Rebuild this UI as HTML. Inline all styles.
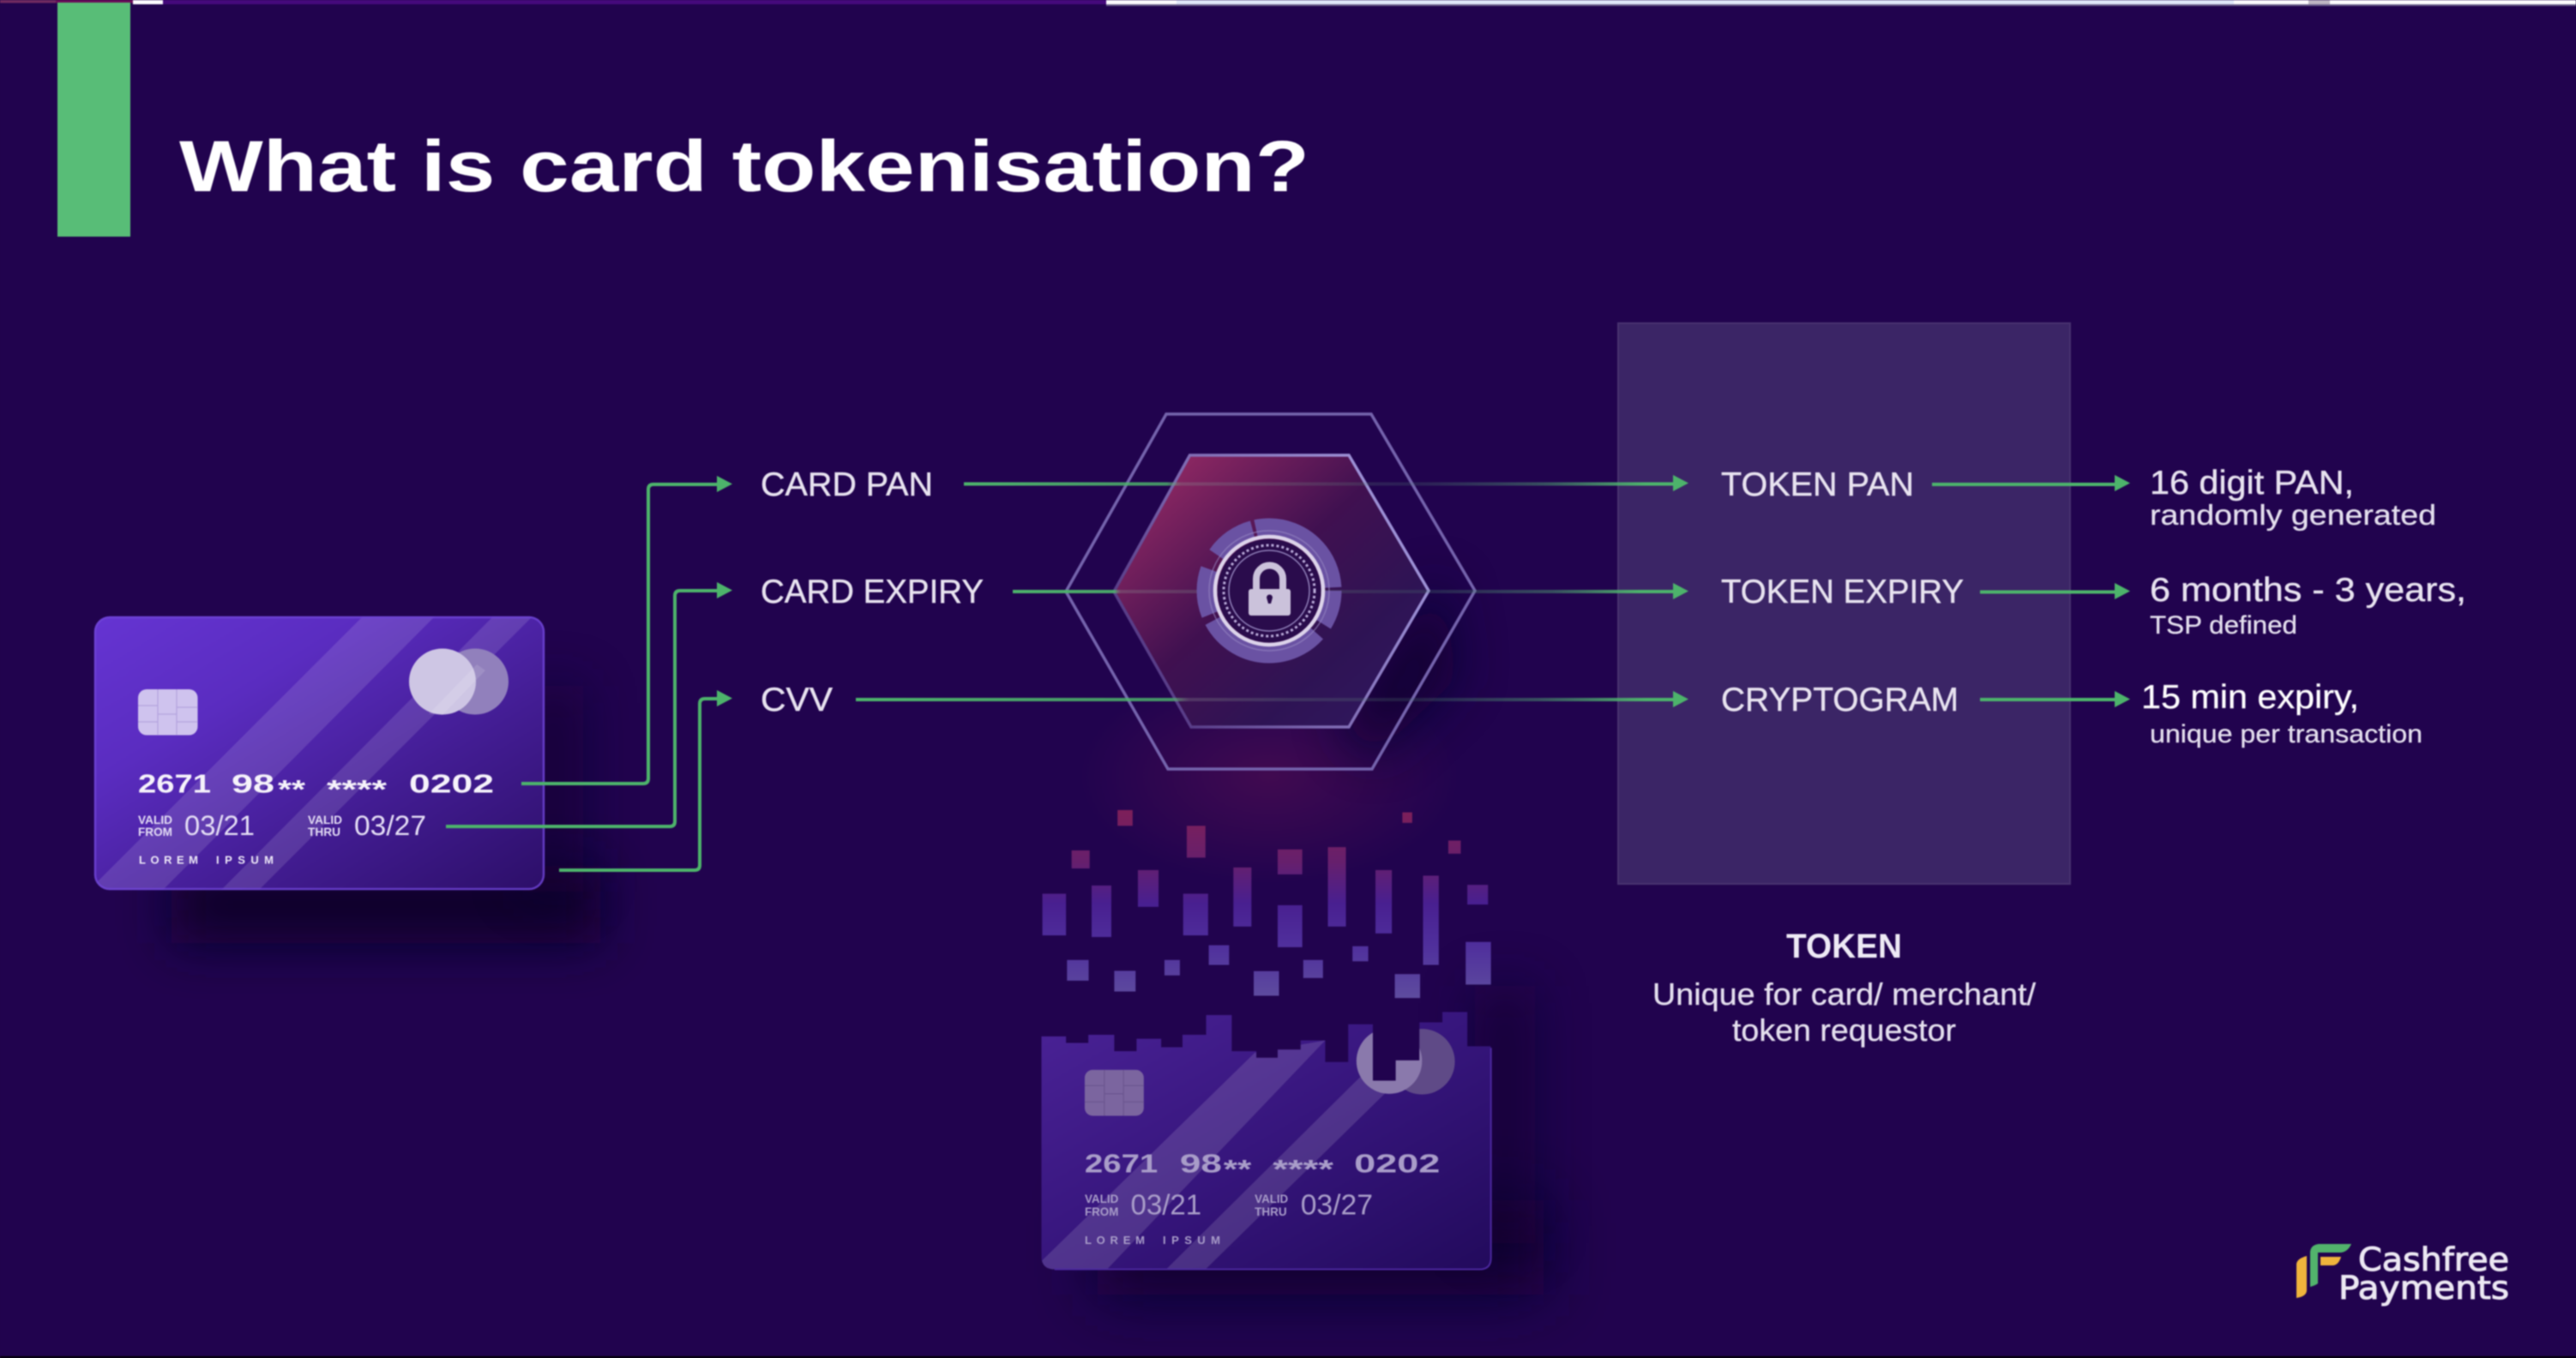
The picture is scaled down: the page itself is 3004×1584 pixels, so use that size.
<!DOCTYPE html>
<html><head><meta charset="utf-8"><title>What is card tokenisation?</title>
<style>
html,body{margin:0;padding:0;background:#21034e;width:3004px;height:1584px;overflow:hidden}
svg{display:block;filter:blur(.8px)}
text{font-family:"Liberation Sans",sans-serif;fill:#e8e3f0}
.l{font-size:39px;stroke:#e8e3f0;stroke-width:.4}
.s{font-size:33px;fill:#e4dfee;stroke:#e4dfee;stroke-width:.3}
.n{font-weight:bold;font-size:31px;fill:#f6f3fb}
.v{font-size:14px;fill:#e4ddf5;font-weight:bold}
.d{font-size:32px;fill:#e4ddf5}
.o{font-size:13px;font-weight:bold;fill:#eee9f8}
.n2{font-weight:bold;font-size:80px;fill:#a99dc9}
.v2{font-size:36px;font-weight:bold;fill:#a99dc9}
.d2{font-size:86px;fill:#a99dc9}
.o2{font-size:34px;font-weight:bold;fill:#a99dc9}
</style></head><body>
<svg xmlns="http://www.w3.org/2000/svg" width="3004" height="1584" viewBox="0 0 3004 1584">
<defs>
<linearGradient id="c1" x1="0" y1="0" x2="1" y2="1"><stop offset="0" stop-color="#6534d2"/><stop offset=".3" stop-color="#5a2cc0"/><stop offset=".65" stop-color="#421c92"/><stop offset="1" stop-color="#2c0e68"/></linearGradient>
<linearGradient id="c2" x1="0" y1="0" x2="1" y2="1"><stop offset="0" stop-color="#4a2296"/><stop offset=".5" stop-color="#36157c"/><stop offset="1" stop-color="#220a5c"/></linearGradient>
<linearGradient id="hx" gradientUnits="userSpaceOnUse" x1="1340" y1="540" x2="1620" y2="850"><stop offset="0" stop-color="#962a64"/><stop offset=".45" stop-color="#401050"/><stop offset=".75" stop-color="#2e1354"/><stop offset="1" stop-color="#30175e"/></linearGradient>
<linearGradient id="hs" gradientUnits="userSpaceOnUse" x1="1300" y1="800" x2="1660" y2="600"><stop offset="0" stop-color="#4a2c78"/><stop offset=".45" stop-color="#7c68b0"/><stop offset="1" stop-color="#a298dc"/></linearGradient>
<linearGradient id="sq" gradientUnits="userSpaceOnUse" x1="0" y1="60" x2="0" y2="640"><stop offset="0" stop-color="#7e1f58"/><stop offset=".28" stop-color="#661f6c"/><stop offset=".5" stop-color="#481f90"/><stop offset=".72" stop-color="#4f2f9c"/><stop offset="1" stop-color="#5e4c9e"/></linearGradient>
<radialGradient id="gl"><stop offset="0" stop-color="#5a0f52" stop-opacity=".55"/><stop offset="1" stop-color="#5a0f52" stop-opacity="0"/></radialGradient>
<linearGradient id="a1" gradientUnits="userSpaceOnUse" x1="1124" y1="0" x2="1969" y2="0"><stop offset="0" stop-color="#4db36b"/><stop offset=".28" stop-color="#4db36b" stop-opacity=".8"/><stop offset=".3" stop-color="#8a8a90" stop-opacity=".3"/><stop offset=".62" stop-color="#4d7a70" stop-opacity=".22"/><stop offset=".8" stop-color="#4d9a70" stop-opacity=".5"/><stop offset=".94" stop-color="#4db36b"/></linearGradient>
<linearGradient id="a2" gradientUnits="userSpaceOnUse" x1="1181" y1="0" x2="1969" y2="0"><stop offset="0" stop-color="#4db36b"/><stop offset=".15" stop-color="#4db36b" stop-opacity=".9"/><stop offset=".16" stop-color="#8a8a90" stop-opacity=".3"/><stop offset=".6" stop-color="#4d7a70" stop-opacity=".22"/><stop offset=".8" stop-color="#4d9a70" stop-opacity=".5"/><stop offset=".93" stop-color="#4db36b"/></linearGradient>
<linearGradient id="a3" gradientUnits="userSpaceOnUse" x1="998" y1="0" x2="1969" y2="0"><stop offset="0" stop-color="#4db36b"/><stop offset=".38" stop-color="#4db36b" stop-opacity=".8"/><stop offset=".4" stop-color="#8a8a90" stop-opacity=".3"/><stop offset=".66" stop-color="#4d7a70" stop-opacity=".22"/><stop offset=".82" stop-color="#4d9a70" stop-opacity=".5"/><stop offset=".95" stop-color="#4db36b"/></linearGradient>
<filter id="b30" filterUnits="userSpaceOnUse" x="0" y="0" width="3004" height="1584"><feGaussianBlur stdDeviation="30"/></filter>
<filter id="b40" filterUnits="userSpaceOnUse" x="0" y="0" width="3004" height="1584"><feGaussianBlur stdDeviation="38"/></filter>
<clipPath id="cc1"><rect x="110" y="719" width="525" height="319" rx="18"/></clipPath>
<clipPath id="cc2"><path d="M90,755H165V775H233V750H312V800H380V762H455V788H520V750H592V690H670V800H745V820H810V795H880V767H955V833H1025V718H1100V890H1170V828H1242V712H1312V680H1388V785H1460V1430Q1460,1465 1425,1465H130Q90,1465 90,1425Z"/></clipPath>
</defs>
<rect width="3004" height="1584" fill="#21034e"/>

<!-- top strip -->
<rect x="0" y="0" width="65" height="3.5" fill="#702a60"/>
<rect x="65" y="0" width="90" height="3.5" fill="#6b0a58"/>
<rect x="155" y="0" width="35" height="5" fill="#fbfbff"/>
<rect x="190" y="0" width="1100" height="5" fill="#45097c"/>
<rect x="1290" y="0" width="82" height="5" fill="#fafafc"/>
<rect x="1372" y="0" width="1233" height="5" fill="#e0e7f8"/>
<rect x="2605" y="0" width="87" height="5" fill="#fbfbfc"/>
<rect x="2692" y="0" width="25" height="5" fill="#bdb6c2"/>
<rect x="2717" y="0" width="287" height="5" fill="#fcfcfd"/>
<rect x="1290" y="5" width="1714" height="2" fill="#6a5e8a"/>

<!-- green bar -->
<rect x="67" y="3" width="85" height="273" fill="#58bd77"/>
<text x="209" y="223" font-size="84" font-weight="bold" style="fill:#fff" textLength="1318" lengthAdjust="spacingAndGlyphs">What is card tokenisation?</text>

<!-- shadows -->
<rect x="200" y="1010" width="500" height="90" fill="#0d012a" filter="url(#b30)"/>
<rect x="610" y="800" width="70" height="240" fill="#10012e" filter="url(#b30)" opacity=".6"/>
<rect x="1280" y="1400" width="520" height="110" fill="#10012e" filter="url(#b40)"/>
<rect x="1720" y="1150" width="70" height="300" fill="#10012e" filter="url(#b30)" opacity=".6"/>
<ellipse cx="1480" cy="905" rx="220" ry="125" fill="url(#gl)"/>
<path d="M1560,840 L1680,670 L1700,790 L1600,885Z" fill="#0f012f" filter="url(#b30)" opacity=".8"/>

<!-- card 1 -->
<rect x="110" y="719" width="525" height="319" rx="18" fill="url(#c1)"/>
<g clip-path="url(#cc1)">
<polygon points="423,719 507,719 190,1038 104,1038" fill="#fff" opacity=".12"/>
<polygon points="575,719 621,719 302,1038 258,1038" fill="#fff" opacity=".12"/>
</g>
<rect x="111" y="720" width="523" height="317" rx="17" fill="none" stroke="#6f45d6" stroke-width="2.5" opacity=".8"/>
<ellipse cx="554" cy="795" rx="39" ry="38.5" fill="#9180bc"/>
<ellipse cx="516" cy="795" rx="39" ry="38.5" fill="#cec6e4"/>
<polygon points="500,833 556,775 566,782 516,834" fill="#fff" opacity=".12"/>
<rect x="161" y="804" width="69.500" height="53.500" rx="10" fill="#cfc3ee"/>
<path d="M184,804V857M206,804V857M161,823H184M161,842H184M206,825H230M206,842H230M184,833H206" stroke="#b3a3de" stroke-width="1.200" fill="none"/>
<text class="n" x="161" y="924.500" textLength="85" lengthAdjust="spacingAndGlyphs">2671</text>
<text class="n" x="270" y="924.500" textLength="50" lengthAdjust="spacingAndGlyphs">98</text>
<text class="n" x="324" y="931" textLength="32" lengthAdjust="spacingAndGlyphs">**</text>
<text class="n" x="381" y="931" textLength="70" lengthAdjust="spacingAndGlyphs">****</text>
<text class="n" x="477" y="924.500" textLength="99" lengthAdjust="spacingAndGlyphs">0202</text>
<text class="v" x="161" y="961" textLength="40" lengthAdjust="spacingAndGlyphs">VALID</text>
<text class="v" x="161" y="975" textLength="40" lengthAdjust="spacingAndGlyphs">FROM</text>
<text class="d" x="215" y="974" textLength="82" lengthAdjust="spacingAndGlyphs">03/21</text>
<text class="v" x="359" y="961" textLength="40" lengthAdjust="spacingAndGlyphs">VALID</text>
<text class="v" x="359" y="975" textLength="38" lengthAdjust="spacingAndGlyphs">THRU</text>
<text class="d" x="413" y="974" textLength="84" lengthAdjust="spacingAndGlyphs">03/27</text>
<text class="o" x="162" y="1007.500" textLength="69" lengthAdjust="spacing">LOREM</text>
<text class="o" x="252" y="1007.500" textLength="67" lengthAdjust="spacing">IPSUM</text>

<!-- card 2 and squares, crop coordinates -->
<g transform="translate(1180,920) scale(.38265)">
<g fill="url(#sq)">
<rect x="322" y="65" width="46" height="48"/><rect x="533" y="113" width="57" height="97"/><rect x="182" y="188" width="55" height="55"/><rect x="810" y="185" width="75" height="76"/><rect x="963" y="178" width="55" height="242"/><rect x="1190" y="72" width="30" height="32"/><rect x="1330" y="158" width="38" height="40"/><rect x="93" y="320" width="72" height="127"/><rect x="243" y="295" width="60" height="157"/><rect x="384" y="248" width="63" height="112"/><rect x="522" y="320" width="76" height="127"/><rect x="675" y="240" width="55" height="180"/><rect x="810" y="355" width="75" height="128"/><rect x="1108" y="248" width="50" height="193"/><rect x="1253" y="265" width="48" height="272"/><rect x="1388" y="293" width="63" height="60"/><rect x="1383" y="467" width="77" height="130"/><rect x="600" y="477" width="62" height="60"/><rect x="168" y="522" width="66" height="63"/><rect x="465" y="522" width="47" height="47"/><rect x="312" y="555" width="65" height="63"/><rect x="737" y="556" width="77" height="75"/><rect x="888" y="522" width="60" height="55"/><rect x="1038" y="480" width="48" height="46"/><rect x="1167" y="565" width="77" height="73"/>
</g>
<g clip-path="url(#cc2)">
<rect x="90" y="680" width="1370" height="785" fill="url(#c2)"/>
<polygon points="740,805 955,767 290,1465 100,1465 90,1440" fill="#fff" opacity=".13"/>
<polygon points="1060,880 1240,828 590,1465 470,1465" fill="#fff" opacity=".13"/>
<circle cx="1250" cy="832" r="100" fill="#5f4a87"/>
<circle cx="1150" cy="830" r="100" fill="#8a79ac"/>
</g>
<path d="M1460,790V1430Q1460,1465 1425,1465H130" fill="none" stroke="#4c28a0" stroke-width="5"/>
<rect x="222" y="857" width="180" height="140" rx="24" fill="#7b659f"/>
<path d="M282,857V997M340,857V997M222,905H282M222,955H282M340,905H402M340,955H402M282,930H340" stroke="#6a558f" stroke-width="3" fill="none"/>
<text class="n2" x="222" y="1170" textLength="223" lengthAdjust="spacingAndGlyphs">2671</text>
<text class="n2" x="512" y="1170" textLength="128" lengthAdjust="spacingAndGlyphs">98</text>
<text class="n2" x="645" y="1187" textLength="85" lengthAdjust="spacingAndGlyphs">**</text>
<text class="n2" x="795" y="1187" textLength="185" lengthAdjust="spacingAndGlyphs">****</text>
<text class="n2" x="1043" y="1170" textLength="262" lengthAdjust="spacingAndGlyphs">0202</text>
<text class="v2" x="222" y="1262" textLength="103" lengthAdjust="spacingAndGlyphs">VALID</text>
<text class="v2" x="222" y="1302" textLength="103" lengthAdjust="spacingAndGlyphs">FROM</text>
<text class="d2" x="362" y="1297" textLength="216" lengthAdjust="spacingAndGlyphs">03/21</text>
<text class="v2" x="740" y="1262" textLength="102" lengthAdjust="spacingAndGlyphs">VALID</text>
<text class="v2" x="740" y="1302" textLength="98" lengthAdjust="spacingAndGlyphs">THRU</text>
<text class="d2" x="880" y="1297" textLength="220" lengthAdjust="spacingAndGlyphs">03/27</text>
<text class="o2" x="222" y="1388" textLength="183" lengthAdjust="spacing">LOREM</text>
<text class="o2" x="460" y="1388" textLength="175" lengthAdjust="spacing">IPSUM</text>
</g>

<!-- token box -->
<rect x="1887" y="377" width="527" height="654" fill="#3b2566" stroke="#47316f" stroke-width="2"/>

<!-- connectors from card -->
<g fill="none" stroke="#4db36b" stroke-width="4">
<path d="M608,914H750Q756,914 756,908V571Q756,565 762,565H838"/>
<path d="M520,964H781Q787,964 787,958V695Q787,689 793,689H838"/>
<path d="M652,1015H810Q816,1015 816,1009V821Q816,815 822,815H838"/>
</g>
<g fill="#4db36b">
<polygon points="836,555 854,564.500 836,574"/>
<polygon points="836,679 854,688.500 836,698"/>
<polygon points="836,805 854,814.500 836,824"/>
<polygon points="1951,554 1969,563.500 1951,573"/>
<polygon points="1951,680 1969,689.500 1951,699"/>
<polygon points="1951,806 1969,815.500 1951,825"/>
<polygon points="2466,554 2484,563.500 2466,573"/>
<polygon points="2466,680 2484,689.500 2466,699"/>
<polygon points="2466,806 2484,815.500 2466,825"/>
</g>

<!-- hexagons -->
<polygon points="1360,483 1599,483 1720,689 1600,897 1362,897 1243,690" fill="none" stroke="#7463ac" stroke-width="3.500"/>
<polygon points="1387.500,531 1573,531 1666,689 1573,848 1389,848 1299,690" fill="url(#hx)" stroke="url(#hs)" stroke-width="3.500"/>

<!-- lines through hexagon -->
<g stroke-width="4" fill="none">
<path d="M1124,564.500H1951" stroke="url(#a1)"/>
<path d="M1181,690H1951" stroke="url(#a2)"/>
<path d="M998,816H1951" stroke="url(#a3)"/>
</g>
<g stroke="#4db36b" stroke-width="4" fill="none">
<path d="M2253,565H2466"/><path d="M2309,690.500H2466"/><path d="M2309,816H2466"/>
</g>

<!-- lock emblem -->
<g fill="none">
<circle cx="1480" cy="689" r="74" stroke="#6a52a3" stroke-width="21" stroke-dasharray="41 13 142 8 54 19 52 4 128 4"/>
<circle cx="1480" cy="689" r="70" stroke="#9a8ac4" stroke-width="1.500" opacity=".6"/>
<circle cx="1480" cy="689" r="60" fill="#2a0c4c"/>
<circle cx="1480" cy="689" r="63" stroke="#dcd3ea" stroke-width="4.500"/>
<circle cx="1480" cy="689" r="53" stroke="#b9aad8" stroke-width="3" stroke-dasharray="3 3"/>
<circle cx="1480" cy="689" r="47" stroke="#8f7fb8" stroke-width="1.500"/>
</g>
<path d="M1465,690V675A15.500,15.500 0 0 1 1496,675V690" fill="none" stroke="#cbc2db" stroke-width="8"/>
<rect x="1456" y="687" width="49" height="31" rx="3" fill="#cbc2db"/>
<path d="M1477,697a3.500,3.500 0 1 1 7,0l-2,7h-3z" fill="#2a0c4c"/>

<!-- labels -->
<text class="l" x="887" y="578" textLength="201" lengthAdjust="spacingAndGlyphs">CARD PAN</text>
<text class="l" x="887" y="703" textLength="260" lengthAdjust="spacingAndGlyphs">CARD EXPIRY</text>
<text class="l" x="887" y="829" textLength="84" lengthAdjust="spacingAndGlyphs">CVV</text>
<text class="l" x="2007" y="578" textLength="225" lengthAdjust="spacingAndGlyphs">TOKEN PAN</text>
<text class="l" x="2007" y="703" textLength="283" lengthAdjust="spacingAndGlyphs">TOKEN EXPIRY</text>
<text class="l" x="2007" y="829" textLength="277" lengthAdjust="spacingAndGlyphs">CRYPTOGRAM</text>
<text class="l" x="2507" y="576" textLength="238" lengthAdjust="spacingAndGlyphs">16 digit PAN,</text>
<text class="s" x="2507" y="612" textLength="334" lengthAdjust="spacingAndGlyphs">randomly generated</text>
<text class="l" x="2507" y="701" textLength="369" lengthAdjust="spacingAndGlyphs">6 months - 3 years,</text>
<text class="s" x="2507" y="739" style="font-size:30px" textLength="172" lengthAdjust="spacingAndGlyphs">TSP defined</text>
<text class="l" x="2497" y="826" style="fill:#fff" textLength="254" lengthAdjust="spacingAndGlyphs">15 min expiry,</text>
<text class="s" x="2507" y="866" style="font-size:30px" textLength="318" lengthAdjust="spacingAndGlyphs">unique per transaction</text>
<text x="2083" y="1117" font-size="40" font-weight="bold" style="fill:#eeeaf5" textLength="135" lengthAdjust="spacingAndGlyphs">TOKEN</text>
<text class="s" x="1927" y="1172" style="font-size:36px" textLength="447" lengthAdjust="spacingAndGlyphs">Unique for card/ merchant/</text>
<text class="s" x="2020" y="1214" style="font-size:36px" textLength="261" lengthAdjust="spacingAndGlyphs">token requestor</text>

<!-- logo -->
<path d="M2678,1474Q2679,1468 2690,1465V1505Q2690,1512 2678,1514Z" fill="#f0b43c"/>
<path d="M2694,1460Q2695,1452 2704,1451H2742Q2738,1460 2730,1461H2703V1497Q2701,1499 2694,1501Z" fill="#52b36c"/>
<path d="M2706,1466H2730Q2727,1476 2720,1476H2706Z" fill="#f0b43c"/>
<text x="2750" y="1482" font-size="37" style="font-family:'DejaVu Sans',sans-serif;fill:#ece8f3;stroke:#ece8f3;stroke-width:1" textLength="176" lengthAdjust="spacingAndGlyphs">Cashfree</text>
<text x="2727" y="1515" font-size="37" style="font-family:'DejaVu Sans',sans-serif;fill:#ece8f3;stroke:#ece8f3;stroke-width:1" textLength="199" lengthAdjust="spacingAndGlyphs">Payments</text>

<rect x="0" y="1582" width="3004" height="2" fill="#000"/>
</svg>
</body></html>
